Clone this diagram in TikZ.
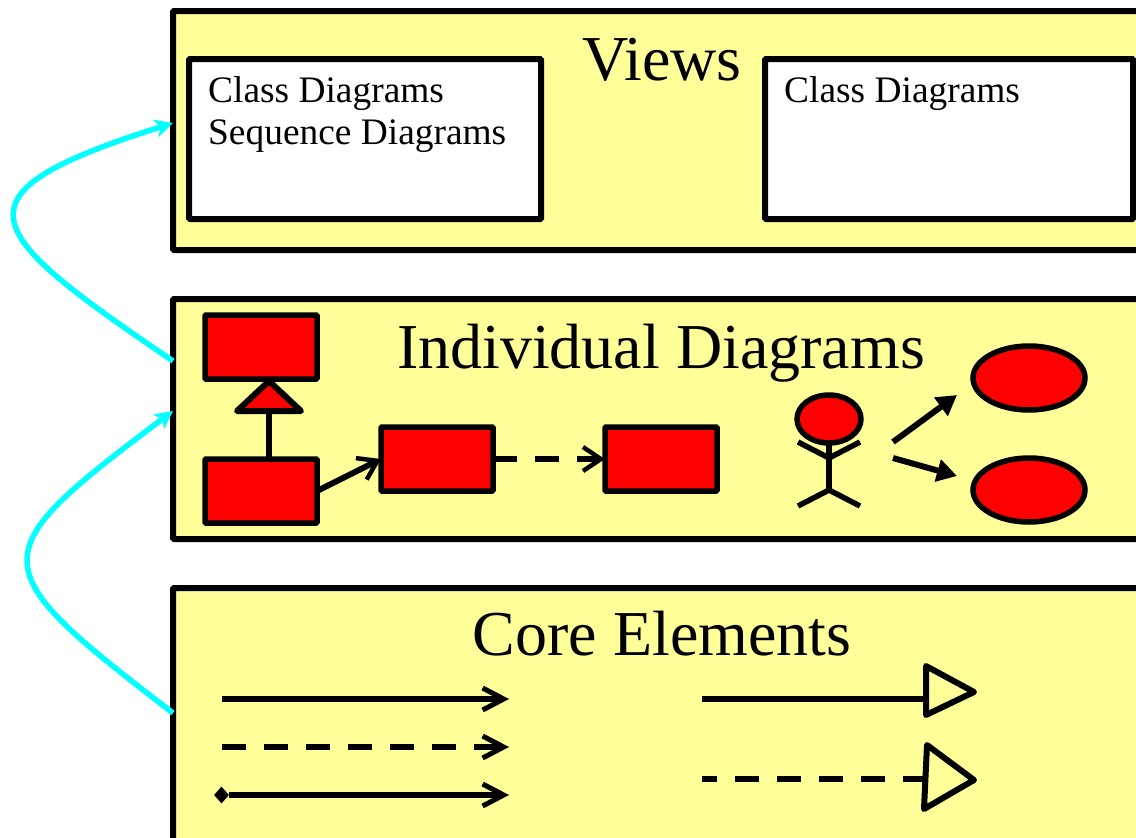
\documentclass[tikz,border=0pt]{standalone}
\usepackage{fontspec}
\setmainfont{Liberation Serif}
\usetikzlibrary{arrows.meta,shapes.geometric}
\definecolor{panelyellow}{RGB}{255,255,153}
\definecolor{linkcyan}{RGB}{0,255,255}
\tikzset{
  panel/.style={draw=black, fill=panelyellow, line width=6pt, rounded corners=1pt},
  listbox/.style={draw=black, fill=white, line width=6pt, rounded corners=1pt, minimum width=352pt, minimum height=160pt, inner sep=0pt, outer sep=0pt},
  classbox/.style={draw=black, fill=red, line width=5.5pt, rounded corners=1pt, minimum width=112pt, minimum height=64pt, inner sep=0pt, outer sep=0pt},
  usecase/.style={draw=black, fill=red, line width=5.5pt, ellipse, minimum width=112pt, minimum height=64pt, inner sep=0pt, outer sep=0pt},
  title/.style={font=\fontsize{64}{64}\selectfont, inner sep=0pt},
  listtext/.style={font=\fontsize{37.4}{42}\selectfont, inner sep=0pt, align=left, anchor=north west},
  link/.style={linkcyan, line width=5.5pt, -{Stealth[length=18pt, width=18pt, inset=5pt]}},
  openarrow/.style={line width=6.5pt, -{Straight Barb[length=21pt, width=22pt, line width=5pt]}},
  thinarrow/.style={line width=6pt, -{Straight Barb[length=18pt, width=24pt, line width=4.5pt]}},
  solidarrow/.style={line width=6pt, -{Stealth[length=20pt, width=22pt, inset=0pt]}},
  hollow/.style={draw=black, line width=6pt, line join=round}
}
\begin{document}
\begin{tikzpicture}[x=1pt, y=-1pt]
  \useasboundingbox (0,0) rectangle (1136,838);
  \clip (0,0) rectangle (1136,838);
  % Pannelli
  \draw[panel] (173,11) rectangle (1170,250);
  \draw[panel] (173,299) rectangle (1170,539);
  \draw[panel] (173,588) rectangle (1170,880);
  % Views
  \node[title] (viewstitle) at (662,60) {Views};
  \node[listbox, anchor=north west] (leftlist) at (189,59) {};
  \node[listbox, anchor=north west, minimum width=368pt] (rightlist) at (765,59) {};
  \node[listtext] (lefttext) at (208,76) {Class Diagrams\\Sequence Diagrams};
  \node[listtext] (righttext) at (784,76) {Class Diagrams};
  % Individual Diagrams
  \node[title] (indtitle) at (661,353) {Individual Diagrams};
  \node[classbox] (parentbox) at (261,347) {};
  \node[classbox] (childbox) at (261,491) {};
  \node[classbox] (midbox) at (437,459) {};
  \node[classbox] (farbox) at (661,459) {};
  % Generalizzazione
  \coordinate (tribase) at (269,411);
  \draw[line width=5.5pt] (tribase |- childbox.north) -- (tribase);
  \draw[hollow, fill=red] (237,411) -- (269,381) -- (301,411) -- cycle;
  % Dipendenze
  \draw[thinarrow] (childbox.east) -- (midbox.west);
  \draw[thinarrow, dash pattern=on 24pt off 18pt, dash phase=0pt] (midbox.east) -- (farbox.west);
  % Attore
  \node[usecase, minimum width=64pt, minimum height=48pt] (actorhead) at (829,419) {};
  \coordinate (actorhip) at (829,490);
  \draw[line width=5.5pt] (actorhead.south) -- (actorhip);
  \draw[line width=5.5pt] (798,442) -- (829,458) -- (860,442);
  \draw[line width=5.5pt] (798,506) -- (actorhip) -- (860,506);
  % Casi d'uso
  \node[usecase] (caseone) at (1029,378) {};
  \node[usecase] (casetwo) at (1029,490) {};
  \coordinate (actorup) at (893,442);
  \coordinate (actordown) at (893,458);
  \coordinate (caseupin) at (957,395);
  \coordinate (casedownin) at (957,476);
  \draw[solidarrow] (actorup) -- (caseupin);
  \draw[solidarrow] (actordown) -- (casedownin);
  % Core Elements
  \node[title] (coretitle) at (662,634) {Core Elements};
  \coordinate (linea) at (222,699);
  \coordinate (lineaend) at (509,699);
  \coordinate (lineb) at (222,747);
  \coordinate (linebend) at (509,747);
  \coordinate (linec) at (229,795);
  \coordinate (linecend) at (509,795);
  \draw[openarrow] (linea) -- (lineaend);
  \draw[openarrow, dash pattern=on 24pt off 18pt] (lineb) -- (linebend);
  \draw[openarrow] (linec) -- (linecend);
  \node[diamond, fill=black, minimum width=15pt, minimum height=17pt, inner sep=0pt] (diamondend) at (221.5,795) {};
  % Triangoli vuoti
  \coordinate (lined) at (702,699);
  \coordinate (linedend) at (926,699);
  \coordinate (linee) at (702,779);
  \coordinate (lineeend) at (925,779);
  \draw[line width=6pt] (lined) -- (linedend);
  \draw[line width=6pt, dash pattern=on 24pt off 18pt, dash phase=9pt] (linee) -- (lineeend);
  \draw[hollow] (926,666) -- (974,692) -- (926,715) -- cycle;
  \draw[hollow] (927,745) -- (974,780) -- (924,809) -- cycle;
  % Frecce ciano
  \coordinate (viewsin) at (173,123);
  \coordinate (indout) at (173,361);
  \coordinate (indin) at (173,411);
  \coordinate (coreout) at (173,713);
  \draw[link] (indout) .. controls (-20,230) and (-55,195) .. (viewsin);
  \draw[link] (coreout) .. controls (-20,565) and (-20,556) .. (indin);
\end{tikzpicture}
\end{document}
